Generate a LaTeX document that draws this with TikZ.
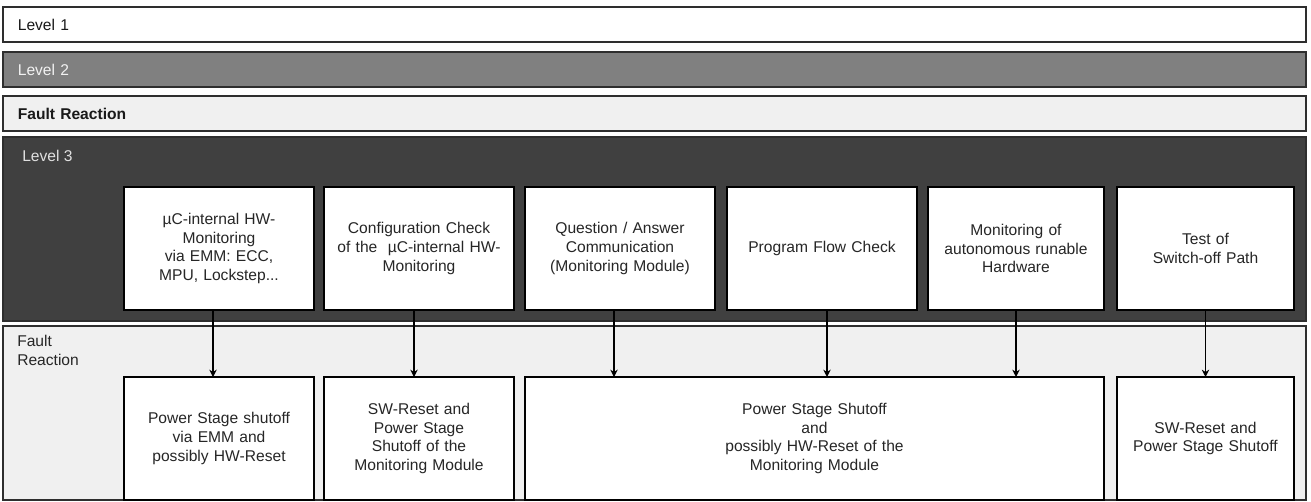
\documentclass[tikz,border=0pt]{standalone}
\usepackage{fontspec}
\setmainfont{Liberation Sans}
\usepackage{xcolor}
\usetikzlibrary{arrows.meta, positioning}
\definecolor{leveltwo}{HTML}{808080}
\definecolor{levelthree}{HTML}{404040}
\definecolor{faultgray}{HTML}{F0F0F0}
\definecolor{edgegray}{HTML}{2E2E2E}

\begin{document}
\begin{tikzpicture}[x=0.75pt, y=0.75pt,
        font=\fontsize{11.7}{14.1}\selectfont,
        bar/.style={rectangle, draw=edgegray, line width=0.9pt, minimum width=977.25pt, minimum height=26.25pt, text width=955pt, align=left, inner xsep=11pt, outer sep=0pt, anchor=north west},
        checkbox/.style={rectangle, draw=black, line width=0.95pt, fill=white, text=black!85, minimum width=142.5pt, minimum height=92.25pt, text width=135pt, align=center, inner sep=0pt, outer sep=0pt},
        flow/.style={-{Stealth[length=5.5pt, width=5.5pt]}, line width=0.9pt}]

        \useasboundingbox (0,0) rectangle (1311,-501);

        % Level bars
        \node[bar, fill=white, text=black!90] (level1) at (3,-7) {Level 1};
        \node[bar, fill=leveltwo, text=white!95!black, below=7.5pt of level1.south west, anchor=north west] (level2) {Level 2};
        \node[bar, fill=faultgray, text=black!90, below=6.75pt of level2.south west, anchor=north west] (fault1) {\textbf{Fault Reaction}};
        \node[bar, fill=levelthree, minimum height=138pt, below=4.5pt of level1.south west |- fault1.south, anchor=north west] (level3) {};
        \node[bar, fill=faultgray, minimum height=130.5pt, below=3.75pt of level3.south west, anchor=north west] (fault2) {};

        % Panel labels
        \node[anchor=north west, inner sep=0pt, text=white!88!black] (level3label) at ([shift={(14.25pt,-9.75pt)}]level3.north west) {Level 3};
        \node[anchor=north west, inner sep=0pt, text=black!85, align=left] (fault2label) at ([shift={(10.5pt,-6.75pt)}]fault2.north west) {Fault\\Reaction};

        % Monitoring nodes
        \node[checkbox, anchor=north west] (hwmon) at (124,-187)
        {µC-internal HW-\\Monitoring\\via EMM: ECC,\\MPU, Lockstep...};
        \node[checkbox, right=7.5pt of hwmon] (cfgcheck)
        {Configuration Check\\of the \ µC-internal HW-\\Monitoring};
        \node[checkbox, right=8.25pt of cfgcheck] (qacomm)
        {Question / Answer\\Communication\\(Monitoring Module)};
        \node[checkbox, right=9pt of qacomm] (flowcheck)
        {Program Flow Check};
        \node[checkbox, minimum width=132pt, text width=126pt, right=8.25pt of flowcheck] (autohw)
        {Monitoring of\\autonomous runable\\Hardware};
        \node[checkbox, minimum width=132.75pt, text width=126pt, right=9.75pt of autohw] (swpath)
        {Test of\\Switch-off Path};

        % Reaction nodes
        \node[checkbox, below=50.25pt of hwmon] (pwroff)
        {Power Stage shutoff\\via EMM and\\possibly HW-Reset};
        \node[checkbox, below=50.25pt of cfgcheck] (swreset)
        {SW-Reset and\\Power Stage\\Shutoff of the\\Monitoring Module};
        \node[checkbox, minimum width=434.25pt, text width=420pt, below=50.25pt of qacomm.south west, anchor=north west] (pwrhw)
        {Power Stage Shutoff\\and\\possibly HW-Reset of the\\Monitoring Module};
        \node[checkbox, minimum width=132.75pt, text width=126pt, below=50.25pt of swpath] (swpwr)
        {SW-Reset and\\Power Stage Shutoff};

        % Arrows
        \draw[flow] ([xshift=-4.5pt]hwmon.south) -- ([xshift=-4.5pt]pwroff.north);
        \draw[flow] ([xshift=-3.75pt]cfgcheck.south) -- ([xshift=-3.75pt]swreset.north);
        \draw[flow] ([xshift=-4.5pt]qacomm.south) -- ([xshift=-4.5pt]qacomm.south |- pwrhw.north);
        \draw[flow] ([xshift=3.75pt]flowcheck.south) -- ([xshift=3.75pt]flowcheck.south |- pwrhw.north);
        \draw[flow] (autohw.south) -- (autohw.south |- pwrhw.north);
        \draw[flow] (swpath) -- (swpwr);

        \end{tikzpicture}
\end{document}
